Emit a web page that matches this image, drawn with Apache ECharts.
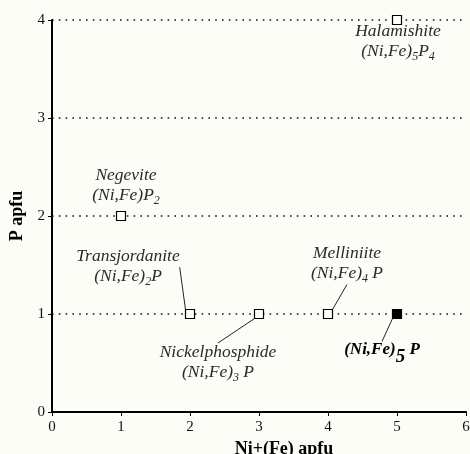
<!DOCTYPE html>
<html><head><meta charset="utf-8">
<script src="https://cdn.jsdelivr.net/npm/echarts@6/dist/echarts.min.js"></script>
<style>html,body{margin:0;padding:0;background:#fdfdf8}#c{width:470px;height:454px}</style>
</head><body><div id="c"></div>
<script>
// Data
const mineralNames = ['Negevite','Transjordanite','Nickelphosphide','Melliniite','Halamishite','(Ni,Fe)5P'];
const niFeApfu = [1, 2, 3, 4, 5, 5];
const pApfu = [2, 1, 1, 1, 4, 1];
const labelTexts = [
  '{n|Negevite}\n{n|(Ni,Fe)P}{s|2}',
  '{n|Transjordanite}\n{n|(Ni,Fe)}{s|2}{n|P}',
  '{n|Nickelphosphide}\n{n|(Ni,Fe)}{s|3}{n| P}',
  '{n|Melliniite}\n{n|(Ni,Fe)}{s|4}{n| P}',
  '{n|Halamishite}\n{n|(Ni,Fe)}{s|5}{n|P}{s|4}',
  '{b|(Ni,Fe)}{bs|5}{b| P}'
];
const filled = [false, false, false, false, false, true];
const xTicks = [0,1,2,3,4,5,6];
const yTicks = [0,1,2,3,4];

// Styling (label offsets in px, leader line flags)
const offsets = [[5,-30],[-62,-47],[-41,49],[19,-50],[1,22],[-15,36]];
const leader = [false, true, true, true, false, true];

const serif = '"Liberation Serif","DejaVu Serif",serif';
const chart = echarts.init(document.getElementById('c'));
const data = niFeApfu.map((x, i) => ({
  value: [x, pApfu[i]],
  name: mineralNames[i],
  itemStyle: filled[i] ? {color: '#000', borderColor: '#000'} : {color: '#fff', borderColor: '#000'},
  label: {formatter: labelTexts[i]},
  labelLine: {show: leader[i]}
}));
chart.setOption({
  backgroundColor: '#fdfdf8',
  animation: false,
  grid: {left: 52, right: 4, top: 20, bottom: 42, containLabel: false, outerBoundsMode: 'none'},
  xAxis: {
    type: 'value', min: xTicks[0], max: xTicks[xTicks.length-1], interval: 1,
    name: 'Ni+(Fe) apfu', nameLocation: 'middle', nameGap: 27,
    nameTextStyle: {fontFamily: serif, fontWeight: 'bold', fontSize: 18, color: '#000', padding: [0,0,0,50]},
    axisLine: {lineStyle: {color: '#000', width: 2}},
    axisTick: {show: true, length: 4, lineStyle: {color: '#000'}},
    axisLabel: {fontFamily: serif, fontSize: 15, color: '#111', margin: 8},
    splitLine: {show: false}
  },
  yAxis: {
    type: 'value', min: yTicks[0], max: yTicks[yTicks.length-1], interval: 1,
    name: 'P apfu', nameLocation: 'middle', nameGap: 26,
    nameTextStyle: {fontFamily: serif, fontWeight: 'bold', fontSize: 18, color: '#000'},
    axisLine: {show: true, lineStyle: {color: '#000', width: 2}},
    axisTick: {show: true, length: 4, lineStyle: {color: '#000'}},
    axisLabel: {fontFamily: serif, fontSize: 15, color: '#111', margin: 7},
    splitLine: {show: true, lineStyle: {color: '#111', width: 1.6, type: [1.6, 5.2]}}
  },
  series: [{
    type: 'scatter',
    symbol: 'rect',
    symbolSize: 9,
    itemStyle: {borderWidth: 1.2, opacity: 1},
    z: 5,
    data: data,
    label: {
      show: true, position: 'inside', align: 'center', verticalAlign: 'middle',
      rich: {
        n: {fontFamily: serif, fontStyle: 'italic', fontSize: 17.5, color: '#2a2a2a', lineHeight: 19},
        s: {fontFamily: serif, fontStyle: 'italic', fontSize: 12, color: '#2a2a2a', padding: [10,0,0,0]},
        b: {fontFamily: serif, fontStyle: 'italic', fontWeight: 'bold', fontSize: 17, color: '#000', lineHeight: 19},
        bs: {fontFamily: serif, fontStyle: 'italic', fontWeight: 'bold', fontSize: 19, color: '#000', padding: [14,0,0,0]}
      }
    },
    labelLine: {lineStyle: {color: '#222', width: 1}},
    labelLayout: function (p) {
      const o = offsets[p.dataIndex];
      return {dx: o[0], dy: o[1]};
    }
  }]
});
</script></body></html>
